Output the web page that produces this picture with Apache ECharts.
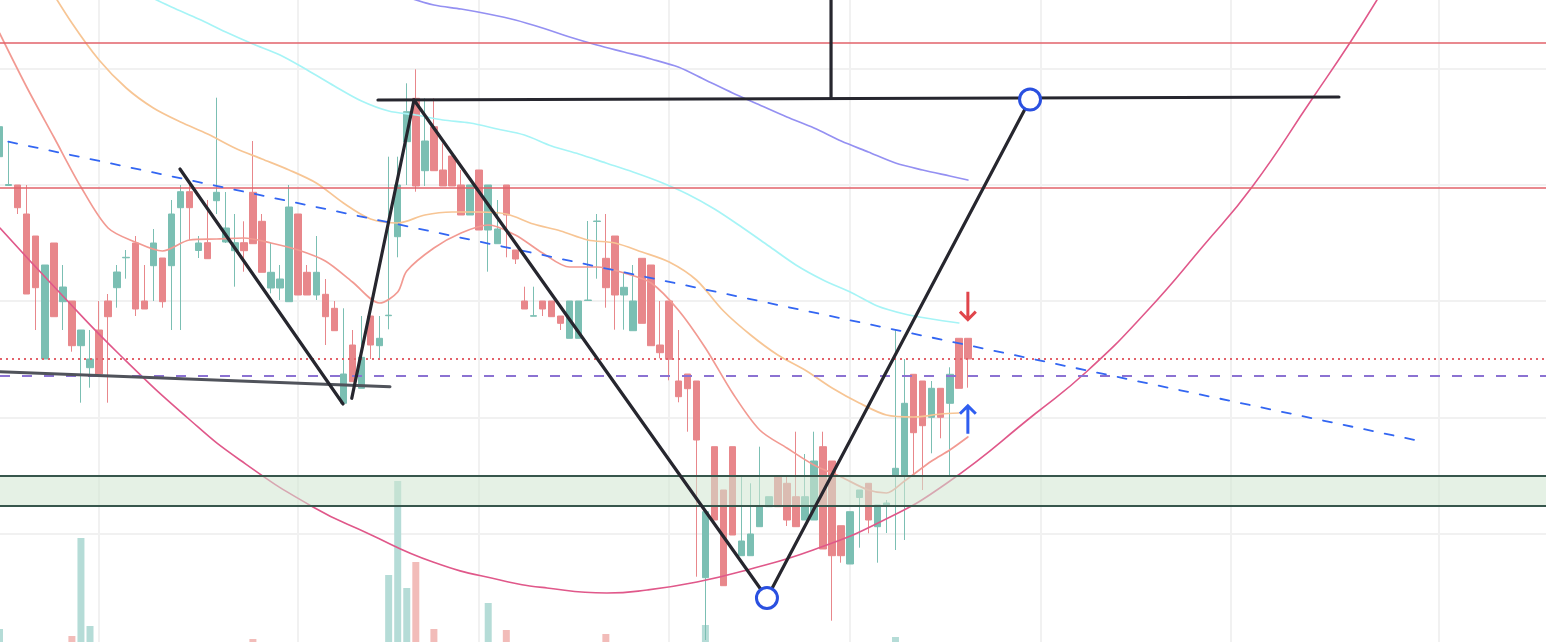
<!DOCTYPE html>
<html><head><meta charset="utf-8">
<script src="https://cdn.jsdelivr.net/npm/echarts@6/dist/echarts.min.js"></script>
<style>html,body{margin:0;padding:0;background:#fff;overflow:hidden}#c{width:1546px;height:642px}</style>
</head><body><div id="c"></div>
<script>
// ---- candle data (index = bar number) ----
const opens = [49.33,46.45,46.5,43.6,41.4,29.1,40.7,34.83,34.9,30.43,
28.23,32.0,34.9,36.23,39.22,40.7,34.9,38.43,39.2,38.43,
44.23,45.83,39.95,40.73,44.93,40.8,39.93,40.73,45.77,42.87,
36.2,36.2,34.83,43.6,37.77,35.5,35.57,34.17,24.67,30.5,
26.17,33.4,30.43,33.43,41.33,50.83,55.17,47.93,52.33,48.0,
49.4,46.5,43.5,48.0,42.0,40.63,46.5,40.0,34.9,33.38,
34.9,34.9,33.4,31.17,31.17,34.95,42.85,39.17,41.4,35.5,
31.93,39.17,38.5,30.5,34.9,26.9,27.6,26.9,7.23,20.33,
16.0,20.33,9.43,9.43,12.33,14.33,17.33,16.67,15.33,13.0,
13.0,20.33,18.9,12.43,8.6,15.25,16.67,12.33,14.5,17.5,
17.5,27.57,26.9,23.27,26.17,24.67,31.17,31.17];
const closes = [52.33,46.55,44.23,35.6,36.23,38.5,33.33,36.3,30.43,32.0,
29.1,27.6,33.33,37.8,39.27,34.1,34.1,40.7,34.83,43.6,
45.83,44.23,40.7,39.13,45.77,42.2,40.73,39.93,40.63,37.77,
37.77,37.1,44.3,35.5,35.5,37.77,33.33,31.93,27.6,26.83,
29.27,30.5,31.17,33.48,46.5,53.83,46.4,50.9,47.93,46.4,
46.4,43.5,46.5,42.0,46.5,42.1,43.5,39.1,34.1,33.43,
34.1,33.33,32.67,34.9,34.9,35.0,42.9,36.23,35.5,36.27,
34.9,32.67,30.43,29.73,29.07,25.33,26.13,21.0,13.83,13.0,
6.43,11.5,10.9,11.6,14.33,15.33,14.33,13.0,12.33,15.33,
18.9,10.1,9.43,9.43,13.83,16.0,13.0,14.5,14.7,18.17,
24.67,21.73,22.43,26.17,23.27,27.57,26.17,29.1];
const lows = [49.33,46.45,43.6,35.6,32.0,29.1,33.33,32.0,29.83,24.73,
26.23,27.6,24.73,34.23,37.13,33.4,34.1,34.9,34.23,32.0,
32.0,41.0,39.2,39.13,43.6,40.7,36.33,37.83,40.63,37.77,
35.67,35.0,34.83,35.5,35.5,35.0,30.5,31.93,24.67,26.83,
26.17,29.1,29.1,32.07,39.27,46.5,45.83,46.4,47.93,46.4,
46.4,43.5,43.5,42.0,37.83,40.63,39.27,38.6,34.1,33.38,
33.4,33.33,32.0,31.17,31.17,34.95,37.13,34.23,32.03,32.03,
31.93,32.67,30.43,29.17,26.97,24.77,21.83,7.33,1.0,13.0,
6.43,11.5,9.43,9.43,12.33,14.33,14.33,12.4,12.33,13.0,
13.0,10.1,2.93,8.73,8.6,10.23,11.67,8.73,11.7,10.0,
11.0,17.33,16.0,19.67,21.17,17.5,26.17,26.23];
const highs = [52.5,50.83,46.5,46.5,41.4,38.5,40.7,38.5,34.9,32.0,
32.0,34.9,35.6,38.5,40.0,41.4,38.5,42.1,39.2,45.0,
46.5,46.5,41.4,45.0,55.23,45.8,43.6,42.87,50.9,43.6,
40.73,38.5,46.5,43.6,38.5,41.4,37.1,34.9,34.17,32.0,
33.4,33.4,33.4,49.33,49.33,56.67,58.07,55.17,55.17,50.67,
49.4,48.0,46.5,48.0,46.5,45.0,46.5,40.0,36.33,36.33,
34.9,34.9,33.4,34.9,34.9,42.9,43.6,43.6,41.4,37.83,
38.5,39.17,38.5,34.9,34.9,32.0,27.6,26.9,13.83,20.33,
16.0,20.33,17.33,16.67,20.33,15.33,17.33,17.33,21.83,19.6,
21.83,21.83,18.9,12.43,13.83,16.0,16.67,14.5,15.0,32.0,
29.1,27.57,26.9,26.9,26.17,28.27,31.17,31.17];
const volumes = [21,6,5,7,6,5,4,6,14,112,
24,5,6,4,3,5,4,6,5,7,
6,4,5,3,7,5,4,6,11,5,
4,3,6,5,4,3,5,6,7,6,
5,4,6,75,169,62,88,6,21,5,
4,6,3,5,47,4,20,5,3,4,
5,3,4,6,5,4,3,16,5,4,
6,5,3,4,6,5,4,5,25,6,
7,5,4,6,3,5,4,6,5,4,
3,6,7,5,4,3,6,5,4,13,
6,5,4,3,5,4,6,5];

// ---- moving averages [bar index, value] ----
const maFast = [[0,61.7],[3,56.3],[6,51.3],[9,46.3],[12,42.2],[15,40.8],[18,39.9],[21,41.0],[24,41.1],[27,41.2],[30,40.7],[33,40.0],[36,38.9],[39,36.8],[42,34.7],[44,35.8],[45,37.9],[48,40.2],[51,41.7],[54,42.5],[57,41.5],[60,39.7],[63,38.3],[66,38.3],[69,37.7],[72,36.7],[75,34.0],[78,30.2],[81,25.7],[84,22.0],[87,20.2],[90,18.5],[93,17.3],[96,16.0],[98,15.7],[100,16.9],[103,18.9],[105,20.0],[107,21.3]];
const maMid = [[5,67.0],[8,62.7],[11,59.0],[14,56.2],[17,54.2],[20,52.8],[23,51.6],[26,50.2],[29,49.1],[32,48.0],[35,46.7],[38,44.7],[41,43.1],[44,42.7],[47,43.5],[50,43.8],[53,43.8],[56,43.6],[59,42.6],[62,41.9],[65,41.0],[68,40.7],[71,39.8],[74,38.8],[77,37.0],[80,33.9],[83,31.5],[86,29.5],[89,28.0],[92,26.2],[95,24.7],[98,23.5],[101,23.3],[104,23.6],[106,23.7]];
const maSlow = [[16,65.6],[19,64.3],[22,63.1],[25,61.8],[28,60.6],[31,59.5],[34,58.0],[37,56.4],[40,54.9],[43,53.9],[46,53.5],[49,53.0],[52,52.7],[55,52.1],[58,51.5],[61,50.4],[64,49.6],[67,48.7],[70,47.8],[73,46.8],[76,45.6],[79,44.1],[82,42.3],[85,40.4],[88,38.5],[91,37.0],[94,35.8],[97,34.4],[100,33.6],[103,33.1],[106,32.7]];
const maLong = [[45,65.3],[48,64.5],[51,64.1],[54,63.6],[57,63.0],[60,62.2],[63,61.3],[66,60.5],[69,59.8],[72,59.1],[75,58.3],[78,57.0],[81,55.7],[84,54.5],[87,53.3],[90,52.2],[93,50.9],[96,49.8],[99,48.7],[102,48.0],[105,47.4],[107,47.0]];

// ---- drawings [bar index, price] ----
const cupArc = [[0.055,42.2],[6.69,35.7],[13.31,29.5],[21.05,23.0],[26.57,19.0],[34.64,14.3],[40.61,11.7],[47.9,8.8],[55.3,7.0],[60.5,6.2],[67.1,5.7],[71.55,6.0],[77.07,6.8],[82.6,8.0],[89.9,10.0],[97.3,12.8],[104.7,16.7],[114.4,23.6],[120.2,27.9],[126.8,33.9],[133.0,40.4],[138.4,46.3],[145.03,55.1],[149.2,60.7],[152.2,65.0]];
const trendDashed = [[0.97,50.83],[156.7,20.94]];
const baseLine = [[0.055,27.83],[43.15,26.33]];
const patternLegs = [
  [[19.94,48.1],[37.96,24.6]],
  [[38.92,25.17],[45.8,55.0]],
  [[45.8,55.0],[84.8,5.2]],
  [[84.8,5.2],[113.87,55.04]]
];
const topLine = [[41.82,55.0],[148.0,55.3]];
const stemLine = [[91.88,65.0],[91.88,55.2]];
const pivots = [[84.8,5.2],[113.87,55.04]];
const arrowDown = [[107,34.33]];
const arrowUp = [[107,23.13]];
const redLevels = [60.73,46.23];
const dottedLevel = 29.1;
const dashedLevel = 27.45;
const zone = [14.4,17.4];
const gridBars = [11,33,53,74,94,115,136,159];
const gridPrices = [11.63,23.26,34.89,46.52,58.15];

const UP = '#7bbfb3', DOWN = '#e8878b';
const candles = opens.map((o,i)=>[i,o,closes[i],lows[i],highs[i]]);
const vol = volumes.map((v,i)=>({value:[i,v], itemStyle:{color: closes[i]>=opens[i] ? '#b5dcd7' : '#f2bcb9'}}));

function seg(data, color, width, z, type){
  return {type:'line', data:data, showSymbol:false, symbol:'none', silent:true, z:z,
    lineStyle:{color:color, width:width, type:type||'solid', cap:'round'}, animation:false};
}

const series = [
  {type:'line', data:[], z:0, silent:true,
   markLine:{z:0, symbol:['none','none'], silent:true, label:{show:false}, animation:false,
     lineStyle:{color:'#f1f1f1', width:2, type:'solid'},
     data: gridBars.map(v=>({xAxis:v})).concat(gridPrices.map(v=>({yAxis:v})))}},
  {type:'bar', data:vol, xAxisIndex:0, yAxisIndex:1, barWidth:7, z:1, silent:true},
  {type:'candlestick', data:candles, barWidth:7, z:2, clip:true, silent:true,
   itemStyle:{color:UP, color0:DOWN, borderColor:UP, borderColor0:DOWN, borderWidth:1}},
  Object.assign(seg(maFast,'#f29a92',1.7,3),{smooth:0.3}),
  Object.assign(seg(maMid,'#f7c594',1.7,3),{smooth:0.3}),
  Object.assign(seg(maSlow,'#a6f4f6',1.7,3),{smooth:0.3}),
  Object.assign(seg(maLong,'#9490f2',1.7,3),{smooth:0.3}),
  Object.assign(seg(cupArc,'#e0588a',1.6,3),{smooth:0.5}),
  {type:'line', data:[], z:4, silent:true,
   markLine:{z:4, symbol:['none','none'], silent:true, label:{show:false}, animation:false,
     data:[
       {yAxis:redLevels[0], lineStyle:{color:'#e2626a', width:1.5, type:'solid'}},
       {yAxis:redLevels[1], lineStyle:{color:'#e2626a', width:1.5, type:'solid'}},
       {yAxis:dottedLevel, lineStyle:{color:'#e2626a', width:2, type:[2,4]}},
       {yAxis:dashedLevel, lineStyle:{color:'#8b72d2', width:2, type:[10,12]}}
     ]}},
  {type:'line', data:[], z:5, silent:true,
   markArea:{z:5, silent:true, animation:false, itemStyle:{color:'rgba(209,230,209,0.56)'},
     data:[[{yAxis:zone[0]},{yAxis:zone[1]}]]},
   markLine:{z:5, symbol:['none','none'], silent:true, label:{show:false}, animation:false,
     lineStyle:{color:'#37564c', width:2, type:'solid'},
     data:[{yAxis:zone[0]},{yAxis:zone[1]}]}},
  seg(trendDashed,'#3366f2',1.8,6,[9,12]),
  seg(baseLine,'#50535b',3,7),
  ...patternLegs.map(p=>seg(p,'#26262e',3.2,7)),
  seg(topLine,'#26262e',3.2,7),
  seg(stemLine,'#26262e',3.2,7),
  {type:'scatter', data:pivots, symbol:'circle', symbolSize:21, z:8, silent:true,
   itemStyle:{color:'#ffffff', borderColor:'#2a50e0', borderWidth:3, opacity:1}},
  {type:'scatter', data:arrowDown, z:8, silent:true, symbolSize:[18,30], symbolKeepAspect:false,
   symbol:'path://M7.5,0 L10.5,0 L10.5,24.26 L15.88,18.88 L18,21 L9,30 L0,21 L2.12,18.88 L7.5,24.26 Z',
   itemStyle:{color:'#e0454b', opacity:1}},
  {type:'scatter', data:arrowUp, z:8, silent:true, symbolSize:[18,30], symbolKeepAspect:false,
   symbol:'path://M7.5,30 L10.5,30 L10.5,5.74 L15.88,11.12 L18,9 L9,0 L0,9 L2.12,11.12 L7.5,5.74 Z',
   itemStyle:{color:'#2f5ef0', opacity:1}}
];

const chart = echarts.init(document.getElementById('c'), null, {renderer:'canvas'});
chart.setOption({
  animation:false,
  backgroundColor:'#ffffff',
  grid:{left:0, right:0, top:0, bottom:0, containLabel:false},
  xAxis:{type:'value', min:0.0552, max:170.88, axisLine:{show:false}, axisTick:{show:false}, axisLabel:{show:false}, splitLine:{show:false}},
  yAxis:[
    {type:'value', min:0.8, max:65, axisLine:{show:false}, axisTick:{show:false}, axisLabel:{show:false}, splitLine:{show:false}},
    {type:'value', min:8, max:650, show:false, splitLine:{show:false}}
  ],
  series: series
});
</script>
</body></html>
